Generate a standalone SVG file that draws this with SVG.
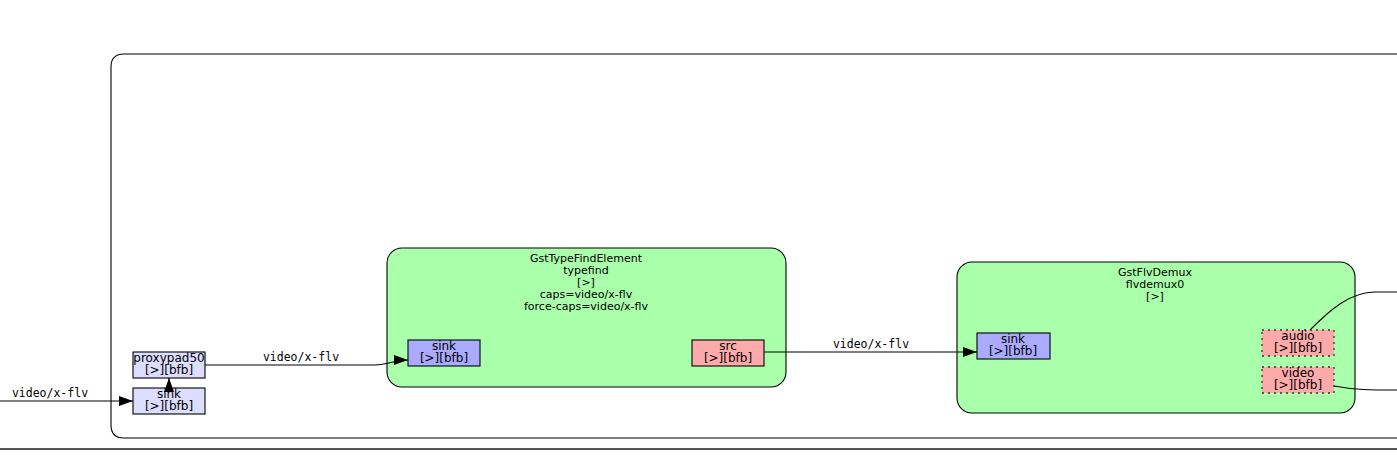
<svg xmlns="http://www.w3.org/2000/svg" width="1397" height="474" viewBox="0 0 1397 474">
<defs>
<marker id="ah" markerWidth="14" markerHeight="10" refX="14" refY="5" orient="auto" markerUnits="userSpaceOnUse">
<path d="M0,0 L14,5 L0,10 Z" fill="#000"/>
</marker>
<style>
.cont{fill:none;stroke:#000;stroke-width:1.1}
.elem{fill:#aaffaa;stroke:#000;stroke-width:1.1}
.proxy{fill:#ddddff;stroke:#000;stroke-width:1.1}
.sinkpad{fill:#aaaaff;stroke:#000;stroke-width:1.1}
.srcpad{fill:#ffaaaa;stroke:#000;stroke-width:1.1}
.sometimes{fill:#ffaaaa;stroke:#333;stroke-width:1.3;stroke-dasharray:2,4}
.t{font-family:"DejaVu Sans",sans-serif;font-size:11px;fill:#000;text-anchor:middle}
.p{font-family:"DejaVu Sans",sans-serif;font-size:12px;fill:#000;text-anchor:middle}
.e{font-family:"DejaVu Sans Mono",monospace;font-size:11.5px;fill:#000;text-anchor:middle}
.c{fill:none;stroke:#000;stroke-width:1.1}
</style>
</defs>
<rect x="0" y="0" width="1397" height="474" fill="#fff"/>
<line x1="0" y1="449" x2="1397" y2="449" stroke="#555" stroke-width="2"/>
<g id="bin">
<path class="cont" d="M1410,54 H124 Q111,54 111,67 V425 Q111,438 124,438 H1410"/>
</g>
<g id="proxypad50">
<rect class="proxy" x="133" y="352" width="72" height="26"/>
<text class="p" x="169" y="362">proxypad50</text>
<text class="p" x="169" y="374">[&gt;][bfb]</text>
</g>
<g id="binsink">
<rect class="proxy" x="133" y="388" width="72" height="26"/>
<text class="p" x="169" y="398">sink</text>
<text class="p" x="169" y="410">[&gt;][bfb]</text>
</g>
<g id="typefind">
<rect class="elem" x="387" y="248" width="399" height="139" rx="15" ry="15"/>
<text class="t" x="586" y="262">GstTypeFindElement</text>
<text class="t" x="586" y="274">typefind</text>
<text class="t" x="586" y="286">[&gt;]</text>
<text class="t" x="586" y="298">caps=video/x-flv</text>
<text class="t" x="586" y="310">force-caps=video/x-flv</text>
</g>
<g id="typefind_sink">
<rect class="sinkpad" x="408" y="340" width="72" height="26"/>
<text class="p" x="444" y="350">sink</text>
<text class="p" x="444" y="362">[&gt;][bfb]</text>
</g>
<g id="typefind_src">
<rect class="srcpad" x="692" y="340" width="72" height="26"/>
<text class="p" x="728" y="350">src</text>
<text class="p" x="728" y="362">[&gt;][bfb]</text>
</g>
<g id="flvdemux0">
<rect class="elem" x="957" y="262" width="398" height="151" rx="15" ry="15"/>
<text class="t" x="1155" y="276">GstFlvDemux</text>
<text class="t" x="1155" y="288">flvdemux0</text>
<text class="t" x="1155" y="300">[&gt;]</text>
</g>
<g id="flvdemux0_sink">
<rect class="sinkpad" x="977" y="333" width="73" height="26"/>
<text class="p" x="1013" y="343">sink</text>
<text class="p" x="1013" y="355">[&gt;][bfb]</text>
</g>
<g id="flvdemux0_audio">
<rect class="sometimes" x="1262" y="330" width="72" height="26"/>
<text class="p" x="1298" y="340">audio</text>
<text class="p" x="1298" y="352">[&gt;][bfb]</text>
</g>
<g id="flvdemux0_video">
<rect class="sometimes" x="1262" y="367" width="72" height="26"/>
<text class="p" x="1298" y="377">video</text>
<text class="p" x="1298" y="389">[&gt;][bfb]</text>
</g>
<g id="connectors">
<path class="c" d="M0,401 H133" marker-end="url(#ah)"/>
<text class="e" x="50" y="397">video/x-flv</text>
<path class="c" d="M169,391 V378" marker-end="url(#ah)"/>
<path class="c" d="M205,365 H375 C388,365 394,360 408,360" marker-end="url(#ah)"/>
<text class="e" x="301" y="361">video/x-flv</text>
<path class="c" d="M764,352 H935 C950,352 955,352 977,352" marker-end="url(#ah)"/>
<text class="e" x="871" y="348">video/x-flv</text>
<path class="c" d="M1310,330 C1330,310 1350,292 1375,292 H1397"/>
<path class="c" d="M1334,386 C1355,390 1370,390 1397,390"/>
</g>
</svg>
